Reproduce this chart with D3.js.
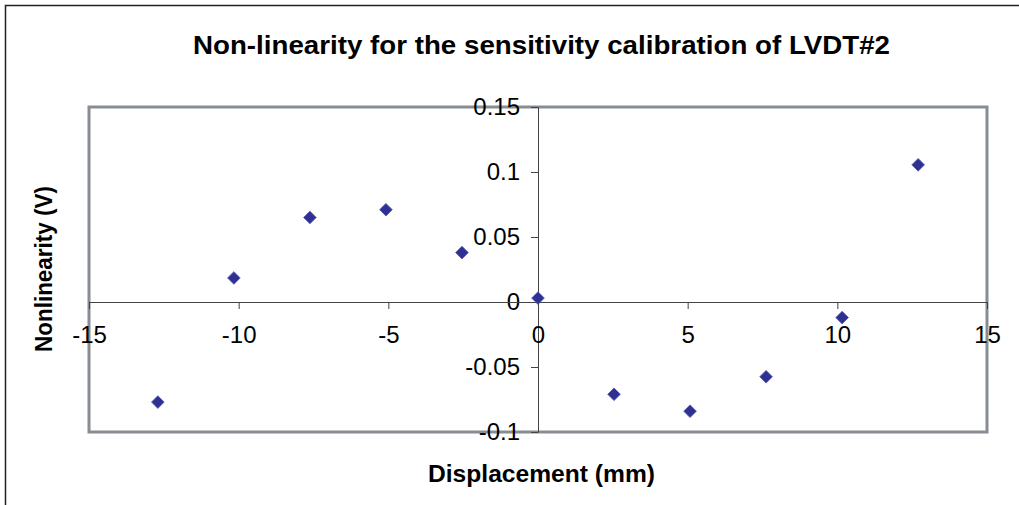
<!DOCTYPE html>
<html>
<head>
<meta charset="utf-8">
<script src="https://cdn.jsdelivr.net/npm/d3@7"></script>
<style>
  body { margin: 0; background: #fff; }
  svg text { font-family: "Liberation Sans", Arial, sans-serif; fill: #000; }
  .tick text { font-size: 24px; }
  .axis path, .axis line { stroke: #444; }
</style>
</head>
<body>
<div id="chart"></div>
<script>
// displacement steps of 0.1 inch (mm) and the measured nonlinearity (V)
var displacement = [-12.7, -10.16, -7.62, -5.08, -2.54, 0, 2.54, 5.08, 7.62, 10.16, 12.7];
var nonlinearity = [-0.077, 0.0185, 0.065, 0.071, 0.038, 0.003, -0.071, -0.084, -0.0575, -0.012, 0.1055];
var xTicks = [-15, -10, -5, 0, 5, 10, 15];
var yTicks = [-0.1, -0.05, 0, 0.05, 0.1, 0.15];
var yTickLabels = ["-0.1", "-0.05", "0", "0.05", "0.1", "0.15"];

var width = 1019, height = 505;
var margin = {top: 107, right: 32, bottom: 73, left: 89};

var svg = d3.select("#chart").append("svg")
    .attr("width", width)
    .attr("height", height);

// outer frame, only left and top edges show
svg.append("path")
    .attr("d", "M5.5," + height + "L5.5,5.5L" + width + ",5.5")
    .attr("fill", "none")
    .attr("stroke", "#222")
    .attr("stroke-width", 1.5);

var x = d3.scaleLinear().domain([-15, 15]).range([margin.left, width - margin.right]);
var y = d3.scaleLinear().domain([-0.1, 0.15]).range([height - margin.bottom, margin.top]);

// grey plot area border
svg.append("rect")
    .attr("x", x(-15))
    .attr("y", y(0.15))
    .attr("width", x(15) - x(-15))
    .attr("height", y(-0.1) - y(0.15))
    .attr("fill", "none")
    .attr("stroke", "#878d92")
    .attr("stroke-width", 3);

// y axis crosses at x = 0
svg.append("g")
    .attr("class", "axis")
    .attr("transform", "translate(" + x(0) + ",0)")
    .call(d3.axisLeft(y)
        .tickValues(yTicks)
        .tickSize(7)
        .tickSizeOuter(0)
        .tickPadding(11)
        .tickFormat(function(d, i){ return yTickLabels[i]; }))
    .call(function(g){ g.selectAll("text").attr("font-family", null).attr("font-size", null); });

// x axis crosses at y = 0
svg.append("g")
    .attr("class", "axis")
    .attr("transform", "translate(0," + y(0) + ")")
    .call(d3.axisBottom(x)
        .tickValues(xTicks)
        .tickSize(7)
        .tickSizeOuter(0)
        .tickPadding(17)
        .tickFormat(function(d){ return String(d); }))
    .call(function(g){ g.selectAll("text").attr("font-family", null).attr("font-size", null); });

// diamond markers
var diamond = d3.symbol().type(d3.symbolSquare).size(80);
svg.append("g")
    .selectAll("path")
    .data(displacement)
    .enter()
    .append("path")
    .attr("d", diamond)
    .attr("transform", function(d, i){
        return "translate(" + x(d) + "," + y(nonlinearity[i]) + ") rotate(45)";
    })
    .attr("fill", "#2e3192")
    .attr("stroke", "#5558b0")
    .attr("stroke-width", 0.8);

// title and axis labels
svg.append("text")
    .attr("x", 541.5)
    .attr("y", 54)
    .attr("text-anchor", "middle")
    .attr("font-size", 26)
    .attr("font-weight", "bold")
    .attr("textLength", 697)
    .attr("lengthAdjust", "spacingAndGlyphs")
    .text("Non-linearity for the sensitivity calibration of LVDT#2");

svg.append("text")
    .attr("x", 541.5)
    .attr("y", 482)
    .attr("text-anchor", "middle")
    .attr("font-size", 24)
    .attr("font-weight", "bold")
    .attr("textLength", 227)
    .attr("lengthAdjust", "spacingAndGlyphs")
    .text("Displacement (mm)");

svg.append("text")
    .attr("transform", "translate(52,269) rotate(-90)")
    .attr("text-anchor", "middle")
    .attr("font-size", 24)
    .attr("font-weight", "bold")
    .attr("textLength", 166)
    .attr("lengthAdjust", "spacingAndGlyphs")
    .text("Nonlinearity (V)");
</script>
</body>
</html>
